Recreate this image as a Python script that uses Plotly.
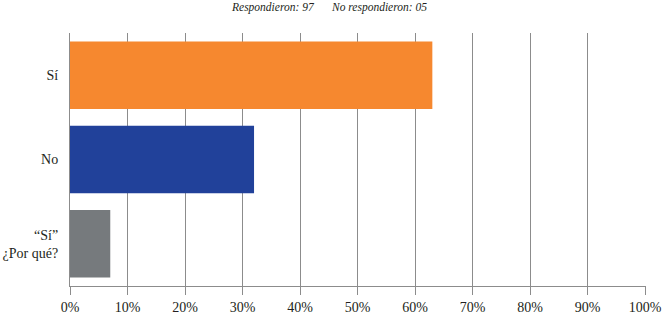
import plotly.graph_objects as go

categories = ["Sí", "No", "“Sí”<br>¿Por qué?"]
values = [63, 32, 7]
colors = ["#F6882F", "#21419A", "#767A7D"]
tick_vals = [0, 10, 20, 30, 40, 50, 60, 70, 80, 90, 100]
tick_text = ["0%", "10%", "20%", "30%", "40%", "50%", "60%", "70%", "80%", "90%", "100%"]
title_left = "Respondieron: 97"
title_right = "No respondieron: 05"

FONT = "Liberation Serif"
GRID = "#8C8C8C"

fig = go.Figure(go.Bar(
    y=categories, x=values, orientation="h",
    marker=dict(color=colors, line=dict(width=0)),
    width=0.8, hoverinfo="skip",
))

fig.update_layout(
    width=662, height=317,
    margin=dict(l=70, r=16, t=33, b=31, autoexpand=False),
    paper_bgcolor="white", plot_bgcolor="white",
    font=dict(family=FONT, size=14, color="#231F20"),
    showlegend=False,
    xaxis=dict(
        range=[0, 100.15], tickvals=tick_vals, ticktext=tick_text,
        showgrid=True, gridcolor=GRID, gridwidth=1,
        ticks="outside", ticklen=8, tickcolor=GRID, tickwidth=1,
        showline=True, linecolor=GRID, linewidth=1,
        zeroline=False, fixedrange=True, automargin=False,
        tickfont=dict(family=FONT, size=14, color="#231F20"),
    ),
    yaxis=dict(
        categoryorder="array", categoryarray=categories,
        autorange="reversed",
        showline=True, linecolor=GRID, linewidth=1,
        ticks="", showgrid=False, ticklabelstandoff=8,
        tickfont=dict(family=FONT, size=14, color="#231F20"),
        fixedrange=True, automargin=False,
    ),
    annotations=[
        dict(text="<i>" + title_left + "</i>", xref="paper", yref="paper",
             x=0.352, y=1, yshift=34, showarrow=False, xanchor="center",
             font=dict(family=FONT, size=11.5, color="#231F20")),
        dict(text="<i>" + title_right + "</i>", xref="paper", yref="paper",
             x=0.536, y=1, yshift=34, showarrow=False, xanchor="center",
             font=dict(family=FONT, size=11.5, color="#231F20")),
    ],
)

fig.write_html(
    "out.html",
    config={"displayModeBar": False},
    post_script="document.body.style.margin='0';",
)
